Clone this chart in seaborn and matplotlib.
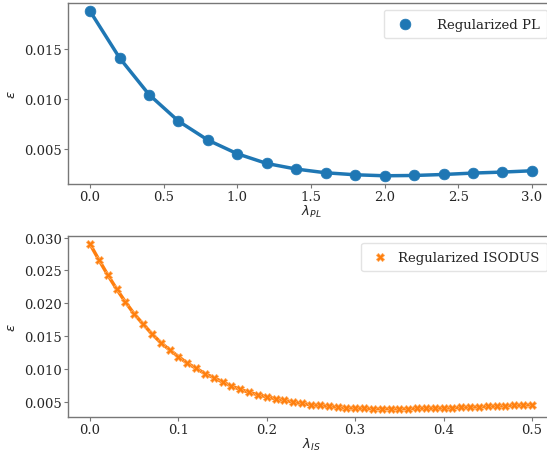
import numpy as np
import pandas as pd
import matplotlib
matplotlib.use("Agg")
import matplotlib.pyplot as plt
import seaborn as sns

# Données
lam_pl = [0.0, 0.2, 0.4, 0.6, 0.8, 1.0, 1.2, 1.4, 1.6, 1.8, 2.0, 2.2, 2.4, 2.6, 2.8, 3.0]
eps_pl = [0.01877, 0.0141, 0.01043, 0.00777, 0.00587, 0.0045, 0.00353, 0.00297,
          0.0026, 0.0024, 0.0023, 0.00233, 0.00243, 0.00257, 0.00267, 0.0028]

lam_is = [round(0.01 * i, 2) for i in range(51)]
eps_is = [0.02898, 0.0266, 0.02431, 0.02218, 0.0202, 0.01837, 0.01685, 0.01536,
          0.01404, 0.01293, 0.01191, 0.0109, 0.01014, 0.00932, 0.00871, 0.00805,
          0.00744, 0.00693, 0.00648, 0.00612, 0.00581, 0.00551, 0.00526, 0.005,
          0.0048, 0.0046, 0.0045, 0.00434, 0.00424, 0.00414, 0.00409, 0.00404,
          0.00399, 0.00399, 0.00399, 0.00399, 0.00399, 0.00404, 0.00404, 0.00409,
          0.00409, 0.00414, 0.00419, 0.00424, 0.00429, 0.00434, 0.00439, 0.00444,
          0.0045, 0.00455, 0.0046]

df_pl = pd.DataFrame({"lam": lam_pl, "eps": eps_pl})
df_is = pd.DataFrame({"lam": lam_is, "eps": eps_is})

sns.set_style("white")
plt.rcParams["font.family"] = ["DejaVu Serif"]
plt.rcParams["mathtext.fontset"] = "dejavusans"

fig = plt.figure(figsize=(5.47, 4.56), dpi=100)
ax1 = fig.add_axes([68 / 547, 1 - 185 / 456, 486 / 547, 181 / 456])
ax2 = fig.add_axes([68 / 547, 1 - 418 / 456, 486 / 547, 181 / 456])

blue = "#1f77b4"
orange = "#ff7f0e"

# Panneau du haut : PL
sns.lineplot(data=df_pl, x="lam", y="eps", ax=ax1, color=blue, linewidth=2.5)
sns.scatterplot(data=df_pl, x="lam", y="eps", ax=ax1, color=blue, marker="o",
                s=60, edgecolor=blue, linewidth=0.5, label="Regularized PL", zorder=3)
ax1.set_xlabel(r"$\lambda_{PL}$", fontsize=9.5, labelpad=0)
ax1.set_ylabel(r"$\epsilon$", fontsize=9.5)
ax1.set_xticks([0.0, 0.5, 1.0, 1.5, 2.0, 2.5, 3.0])
ax1.set_yticks([0.005, 0.010, 0.015])
ax1.set_xlim(-0.15, 3.15)

# Panneau du bas : ISODUS
sns.lineplot(data=df_is, x="lam", y="eps", ax=ax2, color=orange, linewidth=2.5)
sns.scatterplot(data=df_is, x="lam", y="eps", ax=ax2, color=orange, marker="X",
                s=35, edgecolor="#ffb066", linewidth=0.5, label="Regularized ISODUS", zorder=3)
ax2.set_xlabel(r"$\lambda_{IS}$", fontsize=9.5, labelpad=0)
ax2.set_ylabel(r"$\epsilon$", fontsize=9.5)
ax2.set_xticks([0.0, 0.1, 0.2, 0.3, 0.4, 0.5])
ax2.set_yticks([0.005, 0.010, 0.015, 0.020, 0.025, 0.030])
ax2.set_xlim(-0.025, 0.525)

for ax in (ax1, ax2):
    ax.set_yticklabels([f"{t:.3f}" for t in ax.get_yticks()])
    ax.set_xticklabels([f"{t:.1f}" for t in ax.get_xticks()])
    ax.tick_params(axis="both", labelsize=9.5, direction="out", length=3,
                   width=0.8, color="#777777", left=True, bottom=True, pad=1.5)
    for sp in ax.spines.values():
        sp.set_color("#777777")
        sp.set_linewidth(1.0)
    ax.spines["right"].set_visible(False)  # coupé par le bord de l'image

leg1 = ax1.legend(loc="upper right", fontsize=9.5, frameon=True, borderpad=0.6,
                  handletextpad=1.4, borderaxespad=0.5)
leg1.get_frame().set_edgecolor("#dddddd")
leg2 = ax2.legend(loc="upper right", fontsize=9.5, frameon=True, borderpad=0.6,
                  handletextpad=0.6, handlelength=1.6, borderaxespad=0.5)
leg2.get_frame().set_edgecolor("#dddddd")

fig.savefig("out.png", dpi=100)
